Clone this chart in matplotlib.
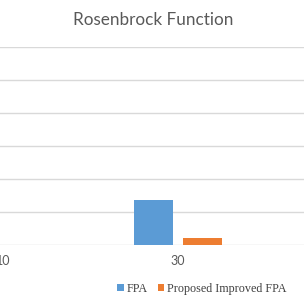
import numpy as np
import matplotlib.pyplot as plt

# Данные (значения оценены по картинке)
categories = ['10', '30']
fpa = [0.0, 1.36]
improved_fpa = [0.0, 0.2]
y_ticks = [0, 1, 2, 3, 4, 5, 6]

fig = plt.figure(figsize=(3.04, 3.04), dpi=100)
ax = fig.add_axes([0.0, 0.194, 1.0, 0.651])

x = np.arange(len(categories))
w = 0.223
ax.bar(x - 0.14, fpa, w, color='#5b9bd5', label='FPA', zorder=3)
ax.bar(x + 0.14, improved_fpa, w, color='#ed7d31', label='Proposed Improved FPA', zorder=3)

ax.set_xticks(x)
ax.set_xticklabels(categories, fontfamily='Lato', fontsize=9, color='#595959')
ax.tick_params(axis='x', length=0, pad=7)
ax.set_yticks(y_ticks)
ax.set_yticklabels([])
ax.tick_params(axis='y', length=0)
ax.set_xlim(-3 / 175, 301 / 175)
ax.set_ylim(0, 6)
ax.grid(axis='y', color='#d9d9d9', linewidth=1, zorder=0)
for s in ax.spines.values():
    s.set_visible(False)

fig.text(0.503, 0.934, 'Rosenbrock Function', ha='center', va='center',
         fontfamily='Lato', fontsize=12.3, color='#595959')

ax.legend(loc='center', bbox_to_anchor=(0.665, -0.22), ncol=2, frameon=False,
          prop={'family': 'Liberation Serif', 'size': 8.7}, labelcolor='#404040',
          handlelength=0.55, handleheight=0.55, handletextpad=0.25, columnspacing=0.8)

fig.savefig('out.png', dpi=100)
